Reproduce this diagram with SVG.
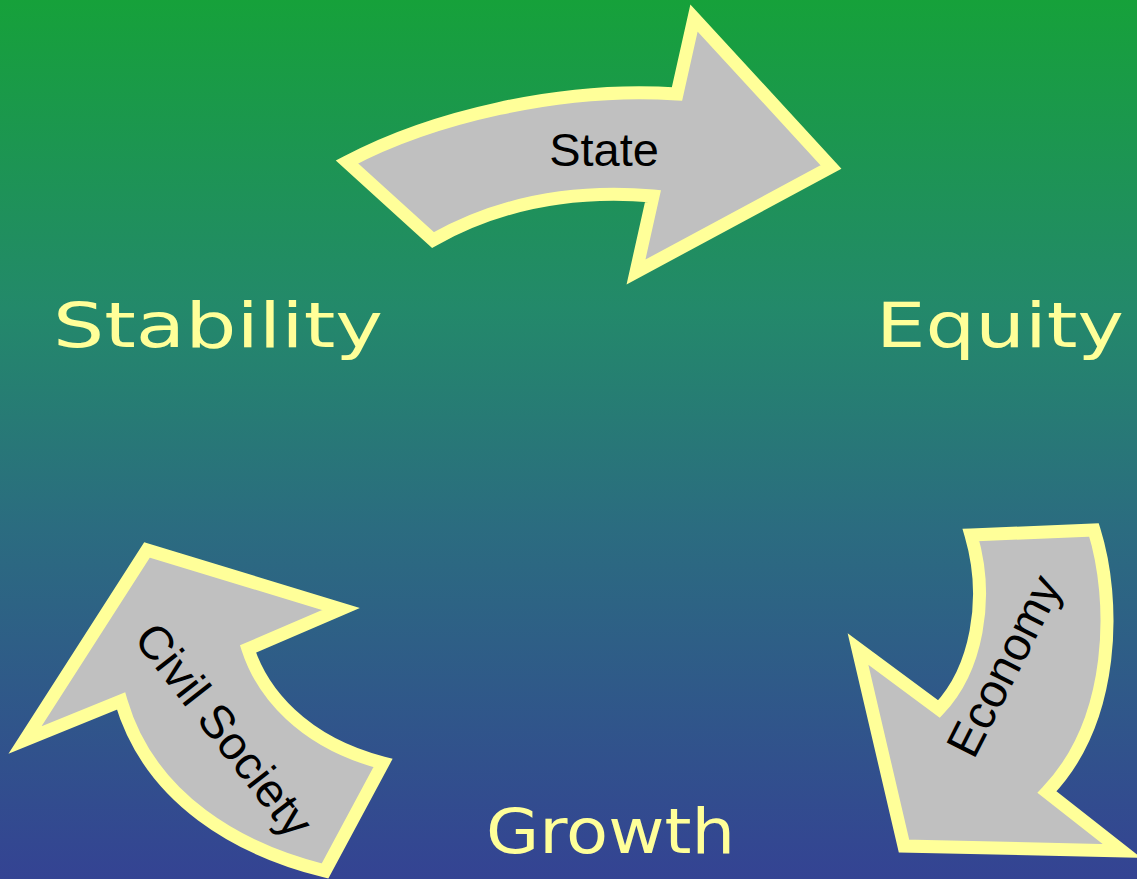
<svg xmlns="http://www.w3.org/2000/svg" width="1137" height="879" viewBox="0 0 1137 879">
  <defs>
    <linearGradient id="bg" x1="0" y1="0" x2="0" y2="1">
      <stop offset="0" stop-color="#16a13a"/>
      <stop offset="0.35" stop-color="#23896a"/>
      <stop offset="0.6" stop-color="#2b6c80"/>
      <stop offset="1" stop-color="#344393"/>
    </linearGradient>
    <style>
      .arrow { fill: #c0c0c0; stroke: #ffff99; stroke-width: 13; stroke-linejoin: miter; stroke-miterlimit: 10; }
      .lbl { font-family: "Liberation Sans", Arial, sans-serif; font-size: 47px; fill: #000000; text-anchor: middle; }
      .big { font-family: "DejaVu Sans", "Liberation Sans", sans-serif; font-size: 62px; fill: #ffff99; }
    </style>
  </defs>
  <rect x="0" y="0" width="1137" height="879" fill="url(#bg)"/>

  <g id="connectors">
    <g id="state-arrow">
      <path class="arrow" d="M347,162 C430,118 560,86 677,94 L694,18 L831,167 L636,272 L653,196 C560,188 490,208 433,240 Z"/>
      <text class="lbl" x="604" y="166">State</text>
    </g>
    <g id="economy-arrow">
      <path class="arrow" d="M971,535 L1094,530 C1116,600 1116,720 1047,792 L1122,851 L904,846 L858,649 L939,709 C976,670 990,600 971,535 Z"/>
      <text class="lbl" transform="translate(1004,666) rotate(-63)" x="0" y="16">Economy</text>
    </g>
    <g id="civil-arrow">
      <path class="arrow" d="M25,740 L147,550 L341,609 L248,649 C262,692 302,742 383,763 L325,871 C240,850 150,800 121,701 Z"/>
      <text class="lbl" transform="translate(224,730) rotate(52)" x="0" y="16">Civil Society</text>
    </g>
  </g>

  <g id="node-stability">
    <text class="big" x="53" y="347" textLength="330" lengthAdjust="spacingAndGlyphs">Stability</text>
  </g>
  <g id="node-equity">
    <text class="big" x="876" y="347" textLength="248" lengthAdjust="spacingAndGlyphs">Equity</text>
  </g>
  <g id="node-growth">
    <text class="big" x="486" y="853" textLength="249" lengthAdjust="spacingAndGlyphs">Growth</text>
  </g>
</svg>
